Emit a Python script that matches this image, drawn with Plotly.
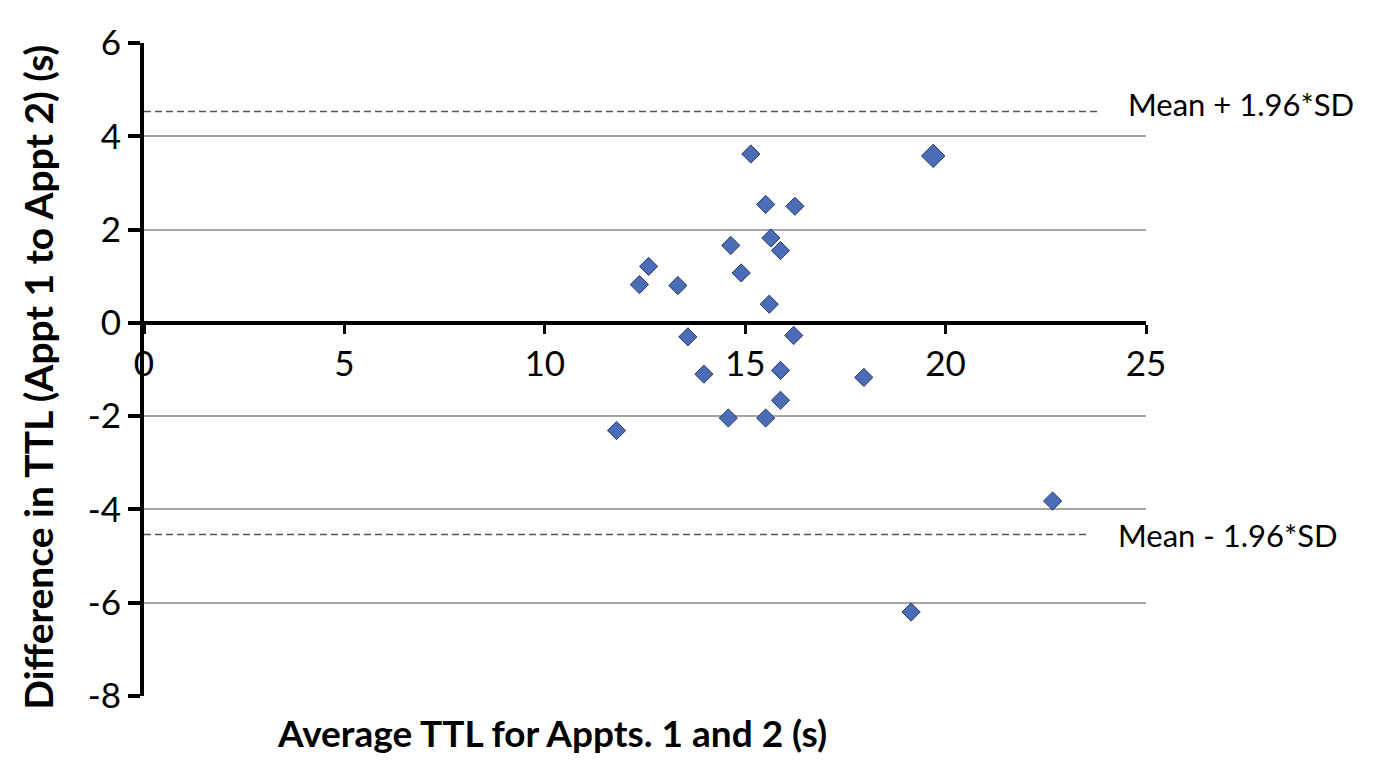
import plotly.graph_objects as go

# Data
avg_ttl = [15.14, 15.51, 16.24, 15.64, 15.88, 14.64, 12.59, 14.90, 12.36, 13.32,
           15.60, 13.57, 16.21, 13.97, 15.88, 17.96, 15.88, 14.58, 15.51, 11.79,
           22.67, 19.14]
diff_ttl = [3.62, 2.54, 2.50, 1.82, 1.55, 1.66, 1.21, 1.07, 0.82, 0.80,
            0.40, -0.30, -0.27, -1.10, -1.02, -1.17, -1.66, -2.04, -2.04, -2.31,
            -3.82, -6.20]
# point drawn with a bigger marker in the original
big_avg = [19.69]
big_diff = [3.58]

upper_loa = 4.53
lower_loa = -4.54
upper_end = 23.85
lower_end = 23.53

x_ticks = [0, 5, 10, 15, 20, 25]
x_tick_labels = ["0", "5", "10", "15", "20", "25"]
y_ticks = [-8, -6, -4, -2, 0, 2, 4, 6]
y_tick_labels = ["-8", "-6", "-4", "-2", "0", "2", "4", "6"]

FONT = "Lato"
marker_fill = "#4b6cb7"
marker_line = "#2b3a63"

fig = go.Figure()

# limits of agreement (dashed)
fig.add_trace(go.Scatter(x=[0, upper_end], y=[upper_loa, upper_loa], mode="lines",
                         line=dict(color="#555555", width=1.5, dash="7px,4px"),
                         hoverinfo="skip", showlegend=False))
fig.add_trace(go.Scatter(x=[0, lower_end], y=[lower_loa, lower_loa], mode="lines",
                         line=dict(color="#555555", width=1.5, dash="7px,4px"),
                         hoverinfo="skip", showlegend=False))

fig.add_trace(go.Scatter(x=avg_ttl, y=diff_ttl, mode="markers",
                         marker=dict(symbol="diamond", size=14, color=marker_fill,
                                     line=dict(color=marker_line, width=1)),
                         showlegend=False))
fig.add_trace(go.Scatter(x=big_avg, y=big_diff, mode="markers",
                         marker=dict(symbol="diamond", size=18, color=marker_fill,
                                     line=dict(color=marker_line, width=1)),
                         showlegend=False))

fig.update_layout(
    width=1360, height=750,
    margin=dict(l=136, r=222, t=27, b=62),
    paper_bgcolor="white", plot_bgcolor="white",
    font=dict(family=FONT, color="black"),
    xaxis=dict(range=[0, 25], tickvals=x_ticks, ticktext=x_tick_labels,
               showgrid=False, zeroline=False,
               showline=True, linecolor="black", linewidth=4,
               ticks="outside", ticklen=9, tickwidth=3, tickcolor="black",
               tickfont=dict(size=35, family=FONT),
               anchor="free", position=8 / 14),
    yaxis=dict(range=[-8, 6], tickvals=y_ticks, ticktext=y_tick_labels,
               showgrid=True, gridcolor="#a6a6a6", gridwidth=1.5, zeroline=False,
               showline=True, linecolor="black", linewidth=4,
               ticks="outside", ticklen=12, tickwidth=4, tickcolor="black",
               tickfont=dict(size=35, family=FONT)),
    annotations=[
        dict(text="Mean + 1.96*SD", x=24.5, y=upper_loa, xref="x", yref="y",
             xanchor="left", yanchor="middle", yshift=8, showarrow=False,
             font=dict(size=31, family=FONT)),
        dict(text="Mean - 1.96*SD", x=24.25, y=lower_loa, xref="x", yref="y",
             xanchor="left", yanchor="middle", showarrow=False,
             font=dict(size=31, family=FONT)),
        dict(text="<b>Average TTL for Appts. 1 and 2 (s)</b>", x=0.407, y=-0.056,
             xref="paper", yref="paper", xanchor="center", yanchor="middle",
             showarrow=False, font=dict(size=37, family=FONT)),
        dict(text="<b>Difference in TTL (Appt 1 to Appt 2) (s)</b>", x=-0.1055, y=0.488,
             xref="paper", yref="paper", xanchor="center", yanchor="middle",
             textangle=-90, showarrow=False, font=dict(size=39, family=FONT)),
    ],
)

fig.write_html("out.html")
